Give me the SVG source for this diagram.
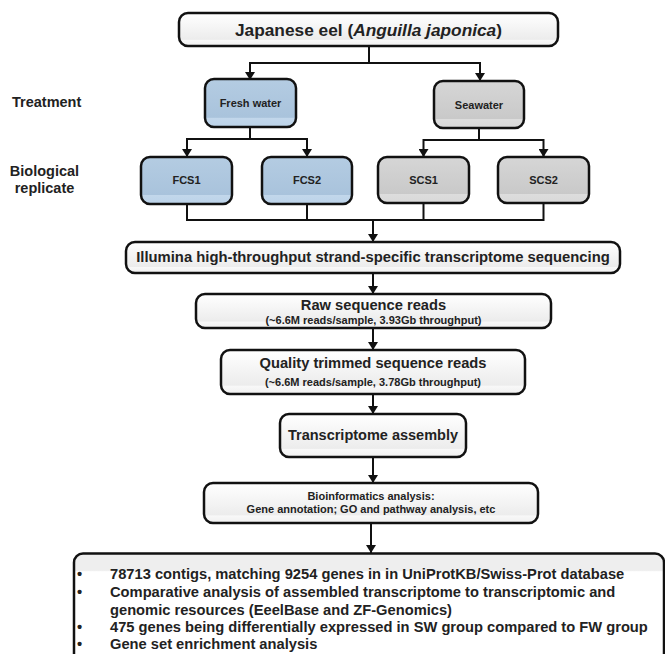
<svg xmlns="http://www.w3.org/2000/svg" width="665" height="654" viewBox="0 0 665 654">
<defs>
<linearGradient id="gw" x1="0" y1="0" x2="0" y2="1">
<stop offset="0" stop-color="#ffffff"/>
<stop offset="0.8" stop-color="#ececec"/>
<stop offset="0.82" stop-color="#f8f8f8"/>
<stop offset="1" stop-color="#f0f0f0"/>
</linearGradient>
<linearGradient id="gb" x1="0" y1="0" x2="0" y2="1">
<stop offset="0" stop-color="#b4cce2"/>
<stop offset="0.8" stop-color="#a9c3dc"/>
<stop offset="0.81" stop-color="#c2d7eb"/>
<stop offset="1" stop-color="#bcd3e9"/>
</linearGradient>
<linearGradient id="gg" x1="0" y1="0" x2="0" y2="1">
<stop offset="0" stop-color="#d6d6d6"/>
<stop offset="0.8" stop-color="#c9c9c9"/>
<stop offset="0.81" stop-color="#dddddd"/>
<stop offset="1" stop-color="#d8d8d8"/>
</linearGradient>
<linearGradient id="gbot" x1="0" y1="0" x2="0" y2="1">
<stop offset="0" stop-color="#eeeeee"/>
<stop offset="0.13" stop-color="#eeeeee"/>
<stop offset="0.14" stop-color="#ffffff"/>
<stop offset="1" stop-color="#ffffff"/>
</linearGradient>
<marker id="ah" viewBox="0 0 8 10" markerWidth="8" markerHeight="10" refX="8" refY="5" orient="auto" markerUnits="userSpaceOnUse">
<path d="M0,0 L8,5 L0,10 z" fill="#111"/>
</marker>
</defs>
<style>
.box{stroke:#111;stroke-width:2.5}
.w{fill:url(#gw)}
.b{fill:url(#gb)}
.g{fill:url(#gg)}
text{font-family:"Liberation Sans",Arial,Helvetica,sans-serif;font-weight:bold;fill:#222}
.c{text-anchor:middle}
.ln{fill:none;stroke:#111;stroke-width:2}
.ar{fill:none;stroke:#111;stroke-width:2;marker-end:url(#ah)}
</style>

<g id="labels">
<text x="12" y="107" font-size="14.5">Treatment</text>
<text x="44.5" y="176" font-size="14.5" class="c">Biological</text>
<text x="44.5" y="193" font-size="14.5" class="c">replicate</text>
</g>

<g id="connectors">
<path class="ln" d="M369,46 V63 M250,63 H480"/>
<path class="ar" d="M250,62 V80"/>
<path class="ar" d="M480,62 V81"/>
<path class="ln" d="M250,127 V139 M187,139 H308"/>
<path class="ar" d="M187,138 V157"/>
<path class="ar" d="M307,138 V157"/>
<path class="ln" d="M479,128 V140 M423,140 H544"/>
<path class="ar" d="M423.5,139 V157"/>
<path class="ar" d="M543.5,139 V157"/>
<path class="ln" d="M187,204 V220 M307,204 V220 M423.5,203 V220 M543.5,203 V220 M186,220 H544.5"/>
<path class="ar" d="M373,219 V242"/>
<path class="ar" d="M373,273 V294"/>
<path class="ar" d="M373,328 V350"/>
<path class="ar" d="M373,394 V414"/>
<path class="ar" d="M373,457 V483"/>
<path class="ar" d="M371,523 V553"/>
</g>

<g id="eel">
<rect class="box w" x="179" y="13" width="379" height="33" rx="9"/>
<text x="368.5" y="36" font-size="17.3" class="c">Japanese eel (<tspan font-style="italic">Anguilla japonica</tspan>)</text>
</g>
<g id="fresh">
<rect class="box b" x="205" y="79" width="91" height="48" rx="9"/>
<text x="250.5" y="106.5" font-size="11" class="c">Fresh water</text>
</g>
<g id="sea">
<rect class="box g" x="434" y="81" width="90" height="47" rx="9"/>
<text x="479" y="108.5" font-size="11" class="c">Seawater</text>
</g>
<g id="fcs1">
<rect class="box b" x="141" y="157" width="91" height="47" rx="9"/>
<text x="186.5" y="184" font-size="11" class="c">FCS1</text>
</g>
<g id="fcs2">
<rect class="box b" x="262" y="157" width="90" height="47" rx="9"/>
<text x="307" y="184" font-size="11" class="c">FCS2</text>
</g>
<g id="scs1">
<rect class="box g" x="378" y="157" width="91" height="46" rx="9"/>
<text x="423.5" y="184" font-size="11" class="c">SCS1</text>
</g>
<g id="scs2">
<rect class="box g" x="498" y="157" width="91" height="46" rx="9"/>
<text x="543.5" y="184" font-size="11" class="c">SCS2</text>
</g>
<g id="illumina">
<rect class="box w" x="126" y="242" width="494" height="31" rx="9"/>
<text x="373" y="262" font-size="14.8" class="c">Illumina high-throughput strand-specific transcriptome sequencing</text>
</g>
<g id="raw">
<rect class="box w" x="196" y="294" width="355" height="34" rx="9"/>
<text x="373.5" y="310" font-size="14.7" class="c">Raw sequence reads</text>
<text x="373.5" y="323.5" font-size="11" class="c">(~6.6M reads/sample, 3.93Gb throughput)</text>
</g>
<g id="quality">
<rect class="box w" x="221" y="350" width="304" height="44" rx="9"/>
<text x="373" y="368" font-size="14.7" class="c">Quality trimmed sequence reads</text>
<text x="373" y="386" font-size="11" class="c">(~6.6M reads/sample, 3.78Gb throughput)</text>
</g>
<g id="assembly">
<rect class="box w" x="280" y="414" width="186" height="43" rx="9"/>
<text x="373" y="440" font-size="14.5" class="c">Transcriptome assembly</text>
</g>
<g id="bioinfo">
<rect class="box w" x="204" y="483" width="334" height="40" rx="9"/>
<text x="371" y="500" font-size="11" class="c">Bioinformatics analysis:</text>
<text x="371" y="513" font-size="11" class="c">Gene annotation; GO and pathway analysis, etc</text>
</g>
<g id="results">
<rect x="74" y="553.5" width="590" height="130" rx="9" fill="url(#gbot)" stroke="#111" stroke-width="2.5"/>
<text font-size="14.7">
<tspan x="77" y="579">•</tspan><tspan x="110" y="579">78713 contigs, matching 9254 genes in in UniProtKB/Swiss-Prot database</tspan>
<tspan x="77" y="597">•</tspan><tspan x="110" y="597">Comparative analysis of assembled transcriptome to transcriptomic and</tspan>
<tspan x="110" y="614.5">genomic resources (EeelBase and ZF-Genomics)</tspan>
<tspan x="77" y="632">•</tspan><tspan x="110" y="632">475 genes being differentially expressed in SW group compared to FW group</tspan>
<tspan x="77" y="649">•</tspan><tspan x="110" y="649">Gene set enrichment analysis</tspan>
</text>
</g>
</svg>
